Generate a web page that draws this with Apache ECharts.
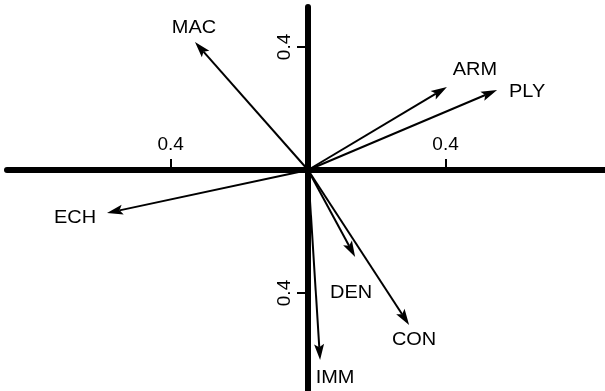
<!DOCTYPE html>
<html>
<head>
<meta charset="utf-8">
<script src="https://cdn.jsdelivr.net/npm/echarts@6/dist/echarts.min.js"></script>
<style>
  html, body { margin: 0; padding: 0; background: #fff; }
  #chart { width: 605px; height: 391px; }
</style>
</head>
<body>
<div id="chart"></div>
<script>
// biplot loadings
const names = ['MAC', 'ARM', 'PLY', 'ECH', 'DEN', 'CON', 'IMM'];
const xs = [-0.329, 0.404, 0.550, -0.585, 0.137, 0.294, 0.035];
const ys = [0.416, 0.270, 0.260, -0.140, -0.283, -0.504, -0.618];
const tickValues = [-0.4, 0.4];

// where each label sits relative to its arrow tip (px)
const labelOffset = {
  MAC: [-1, -14], ARM: [28, -17], PLY: [30, 2], ECH: [-32, 5],
  DEN: [-4, 36], CON: [5, 15], IMM: [15, 18]
};

const font = 'Liberation Sans, Arial, sans-serif';

function renderArrow(params, api) {
  const o = api.coord([0, 0]);
  const p = api.coord([api.value(0), api.value(1)]);
  const dx = p[0] - o[0], dy = p[1] - o[1];
  const len = Math.sqrt(dx * dx + dy * dy);
  const ux = dx / len, uy = dy / len;
  const nx = -uy, ny = ux;
  const hl = 16, hw = 5;
  const bx = p[0] - ux * hl, by = p[1] - uy * hl;
  const notch = [p[0] - ux * hl * 0.8, p[1] - uy * hl * 0.8];
  const name = names[params.dataIndex];
  const off = labelOffset[name];
  return {
    type: 'group',
    children: [
      {
        type: 'line',
        shape: { x1: o[0], y1: o[1], x2: notch[0], y2: notch[1] },
        style: { stroke: '#000', lineWidth: 2 }
      },
      {
        type: 'polygon',
        shape: { points: [p, [bx + nx * hw, by + ny * hw], notch, [bx - nx * hw, by - ny * hw]] },
        style: { fill: '#000' }
      },
      {
        type: 'text',
        x: p[0] + off[0],
        y: p[1] + off[1],
        scaleX: 1.05,
        style: {
          text: name, fontSize: 19, fontFamily: font, fill: '#000',
          align: 'center', verticalAlign: 'middle'
        }
      }
    ]
  };
}

const chart = echarts.init(document.getElementById('chart'));
const option = {
  animation: false,
  backgroundColor: '#fff',
  grid: { left: 7, right: 0, top: 7, bottom: 0, outerBoundsMode: 'none' },
  xAxis: {
    type: 'value',
    min: -0.876,
    max: 0.864,
    offset: -221, // axis drawn through y = 0
    splitLine: { show: false },
    axisLine: { onZero: false, lineStyle: { color: '#000', width: 6 } },
    axisTick: { inside: true, length: 11, customValues: tickValues, lineStyle: { color: '#000', width: 2 } },
    axisLabel: {
      inside: true, margin: 16, customValues: tickValues,
      formatter: v => Math.abs(v).toFixed(1),
      fontSize: 19, fontFamily: font, color: '#000'
    }
  },
  yAxis: {
    type: 'value',
    min: -0.7187,
    max: 0.530,
    offset: -301, // axis drawn through x = 0
    splitLine: { show: false },
    axisLine: { onZero: false, lineStyle: { color: '#000', width: 6 } },
    axisTick: { length: 11, customValues: tickValues, lineStyle: { color: '#000', width: 2 } },
    axisLabel: {
      rotate: 90, margin: 14, customValues: tickValues,
      formatter: v => Math.abs(v).toFixed(1),
      fontSize: 19, fontFamily: font, color: '#000'
    }
  },
  series: [{
    type: 'custom',
    renderItem: renderArrow,
    data: xs.map((x, i) => [x, ys[i]])
  }]
};
chart.setOption(option);
</script>
</body>
</html>
